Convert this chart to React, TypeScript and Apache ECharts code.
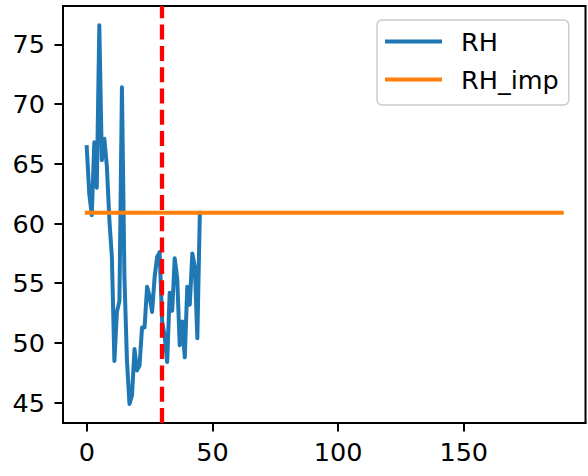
import React, { useEffect, useRef } from "react";
import * as echarts from "echarts";

// ---- data ----
const rhValues: number[] = [
  66.4, 62.5, 60.7, 66.8, 63.0, 76.6, 65.3, 67.1, 64.8, 60.3,
  57.2, 48.5, 52.6, 53.5, 71.4, 55.5, 48.5, 44.9, 45.6, 49.5,
  47.7, 48.1, 51.3, 51.3, 54.7, 53.9, 52.6, 55.5, 57.2, 57.6,
  51.8, 50.6, 48.4, 54.2, 52.7, 57.1, 55.4, 49.8, 51.8, 48.8,
  54.7, 53.2, 57.5, 56.4, 50.4, 60.9,
];
const rhImpValue = 60.9;
const rhImpStart = 0;
const rhImpEnd = 189;
const splitX = 30;
const xTicks = [0, 50, 100, 150];
const yTicks = [45, 50, 55, 60, 65, 70, 75];
const xRange = [-9.45, 198.45];
const yRange = [43.3, 78.21];
const seriesNames = ["RH", "RH_imp"];

const FONT = "DejaVu Sans";
const FS = 25.5;

export default function App() {
  const ref = useRef<HTMLDivElement>(null);

  useEffect(() => {
    if (!ref.current) return;
    const chart = echarts.init(ref.current, undefined, { renderer: "svg" });
    const rhData = rhValues.map((v, i) => [i, v]);
    const impData = [
      [rhImpStart, rhImpValue],
      [rhImpEnd, rhImpValue],
    ];
    const axisLine = { show: true, onZero: false, lineStyle: { color: "#000", width: 2 } };
    chart.setOption({
      animation: false,
      backgroundColor: "#ffffff",
      grid: {
        left: 63,
        top: 6,
        right: 2.5,
        bottom: 53,
        show: true,
        borderColor: "#000",
        borderWidth: 2,
        backgroundColor: "transparent",
      },
      legend: {
        data: seriesNames,
        orient: "vertical",
        left: 377,
        top: 20,
        padding: [7, 10, 11, 8],
        itemWidth: 57,
        itemHeight: 3.8,
        itemGap: 9,
        icon: "rect",
        backgroundColor: "rgba(255,255,255,0.8)",
        borderColor: "#cccccc",
        borderWidth: 1.5,
        borderRadius: 5,
        textStyle: {
          fontFamily: FONT,
          fontSize: FS,
          color: "#000",
          lineHeight: 29,
          padding: [0, 0, 0, 14],
        },
      },
      xAxis: {
        type: "value",
        min: xRange[0],
        max: xRange[1],
        axisLine,
        axisTick: {
          show: true,
          length: 8.5,
          lineStyle: { color: "#000", width: 2 },
          customValues: xTicks,
        },
        axisLabel: {
          customValues: xTicks,
          margin: 16,
          fontFamily: FONT,
          fontSize: FS,
          color: "#000",
        },
        splitLine: { show: false },
      },
      yAxis: {
        type: "value",
        min: yRange[0],
        max: yRange[1],
        axisLine,
        axisTick: {
          show: true,
          length: 8.5,
          lineStyle: { color: "#000", width: 2 },
          customValues: yTicks,
        },
        axisLabel: {
          customValues: yTicks,
          margin: 18,
          fontFamily: FONT,
          fontSize: FS,
          color: "#000",
        },
        splitLine: { show: false },
      },
      series: [
        {
          name: seriesNames[0],
          type: "line",
          data: rhData,
          showSymbol: false,
          symbol: "none",
          color: "#1f77b4",
          lineStyle: { color: "#1f77b4", width: 4, cap: "square", join: "round" },
          z: 2,
          markLine: {
            silent: true,
            symbol: ["none", "none"],
            label: { show: false },
            lineStyle: { color: "#ff0000", width: 4.3, type: [15, 6.3], cap: "butt" },
            data: [{ xAxis: splitX }],
            z: 5,
          },
        },
        {
          name: seriesNames[1],
          type: "line",
          data: impData,
          showSymbol: false,
          symbol: "none",
          color: "#ff7f0e",
          lineStyle: { color: "#ff7f0e", width: 4, cap: "square" },
          z: 3,
        },
      ],
    });
    return () => chart.dispose();
  }, []);

  return (
    <div
      ref={ref}
      style={{ position: "fixed", left: 0, top: 0, width: 588, height: 476 }}
    />
  );
}
